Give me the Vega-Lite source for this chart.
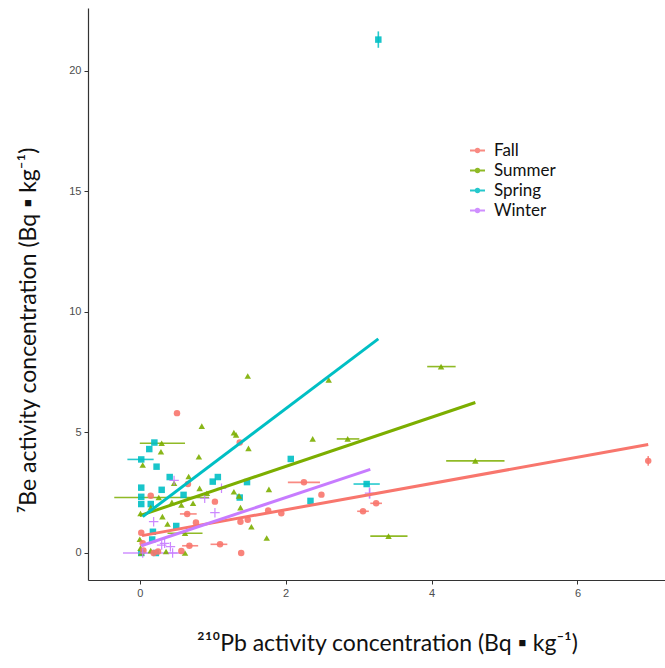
{
  "$schema": "https://vega.github.io/schema/vega-lite/v6.json",
  "width": 577,
  "height": 572,
  "autosize": {"type": "none"},
  "padding": {"left": 88, "top": 8, "right": 0, "bottom": 88},
  "background": "white",
  "config": {
    "view": {"stroke": null},
    "axis": {
      "grid": false,
      "domainColor": "#333333",
      "domainWidth": 1.2,
      "tickColor": "#333333",
      "tickSize": 4,
      "labelColor": "#4d4d4d",
      "labelFont": "Liberation Sans",
      "labelFontSize": 11,
      "titleFont": "Lato",
      "titleFontSize": 23,
      "titleFontWeight": "normal",
      "titleColor": "#111111"
    }
  },
  "datasets": {
    "pts": [
      {"s": "Spring", "x": 3.27, "y": 21.29, "ylo": 20.95, "yhi": 21.63},
      {"s": "Spring", "x": 0.20, "y": 4.58},
      {"s": "Spring", "x": 0.13, "y": 4.31},
      {"s": "Spring", "x": 0.02, "y": 3.88, "xlo": -0.17, "xhi": 0.19},
      {"s": "Spring", "x": 0.23, "y": 3.58},
      {"s": "Spring", "x": 0.41, "y": 3.15},
      {"s": "Spring", "x": 0.02, "y": 2.71},
      {"s": "Spring", "x": 0.30, "y": 2.62},
      {"s": "Spring", "x": 0.60, "y": 2.41},
      {"s": "Spring", "x": 1.00, "y": 2.96},
      {"s": "Spring", "x": 1.07, "y": 3.15},
      {"s": "Spring", "x": 1.47, "y": 2.94},
      {"s": "Spring", "x": 0.02, "y": 2.33},
      {"s": "Spring", "x": 0.02, "y": 2.03},
      {"s": "Spring", "x": 0.15, "y": 2.03},
      {"s": "Spring", "x": 1.37, "y": 2.30},
      {"s": "Spring", "x": 0.50, "y": 1.12},
      {"s": "Spring", "x": 0.18, "y": 0.88},
      {"s": "Spring", "x": 0.17, "y": 0.56},
      {"s": "Spring", "x": 0.22, "y": 0.0},
      {"s": "Spring", "x": 0.02, "y": 0.0},
      {"s": "Spring", "x": 2.07, "y": 3.90},
      {"s": "Spring", "x": 2.34, "y": 2.16},
      {"s": "Spring", "x": 3.11, "y": 2.86, "xlo": 2.93, "xhi": 3.29},
      {"s": "Summer", "x": 4.13, "y": 7.73, "xlo": 3.94, "xhi": 4.33},
      {"s": "Summer", "x": 2.59, "y": 7.18},
      {"s": "Summer", "x": 1.48, "y": 7.34},
      {"s": "Summer", "x": 2.37, "y": 4.73},
      {"s": "Summer", "x": 2.85, "y": 4.73, "xlo": 2.70, "xhi": 3.01},
      {"s": "Summer", "x": 4.60, "y": 3.82, "xlo": 4.20, "xhi": 5.00},
      {"s": "Summer", "x": 3.41, "y": 0.70, "xlo": 3.16, "xhi": 3.67},
      {"s": "Summer", "x": 0.85, "y": 5.26},
      {"s": "Summer", "x": 1.29, "y": 4.99},
      {"s": "Summer", "x": 1.32, "y": 4.90},
      {"s": "Summer", "x": 1.49, "y": 4.34},
      {"s": "Summer", "x": 0.81, "y": 3.99},
      {"s": "Summer", "x": 0.29, "y": 4.20},
      {"s": "Summer", "x": 0.30, "y": 4.55, "xlo": 0.0, "xhi": 0.62},
      {"s": "Summer", "x": 0.04, "y": 3.65},
      {"s": "Summer", "x": 0.67, "y": 3.17},
      {"s": "Summer", "x": 0.47, "y": 2.89},
      {"s": "Summer", "x": 1.77, "y": 2.64},
      {"s": "Summer", "x": 1.29, "y": 2.54},
      {"s": "Summer", "x": 1.36, "y": 2.37},
      {"s": "Summer", "x": 0.82, "y": 2.68},
      {"s": "Summer", "x": 0.92, "y": 2.48},
      {"s": "Summer", "x": 0.26, "y": 2.30, "xlo": -0.35, "xhi": 0.95},
      {"s": "Summer", "x": 1.38, "y": 1.88},
      {"s": "Summer", "x": 0.15, "y": 1.88},
      {"s": "Summer", "x": 0.01, "y": 1.64},
      {"s": "Summer", "x": 0.31, "y": 1.51},
      {"s": "Summer", "x": 0.57, "y": 1.99},
      {"s": "Summer", "x": 0.73, "y": 2.06},
      {"s": "Summer", "x": 0.44, "y": 2.10},
      {"s": "Summer", "x": 1.53, "y": 1.09},
      {"s": "Summer", "x": 1.74, "y": 0.62},
      {"s": "Summer", "x": 0.62, "y": 0.82, "xlo": 0.38, "xhi": 0.86},
      {"s": "Summer", "x": 0.38, "y": 1.20},
      {"s": "Summer", "x": 0.00, "y": 0.57},
      {"s": "Summer", "x": 0.01, "y": 0.20},
      {"s": "Summer", "x": 0.15, "y": 0.10},
      {"s": "Summer", "x": 0.36, "y": 0.06},
      {"s": "Summer", "x": 0.02, "y": 0.00},
      {"s": "Summer", "x": 0.62, "y": 0.00},
      {"s": "Fall", "x": 6.97, "y": 3.82, "ylo": 3.62, "yhi": 4.02},
      {"s": "Fall", "x": 2.25, "y": 2.93, "xlo": 2.03, "xhi": 2.47},
      {"s": "Fall", "x": 2.49, "y": 2.42},
      {"s": "Fall", "x": 3.24, "y": 2.06, "xlo": 3.16, "xhi": 3.32},
      {"s": "Fall", "x": 3.06, "y": 1.73, "xlo": 2.98, "xhi": 3.14},
      {"s": "Fall", "x": 1.94, "y": 1.65},
      {"s": "Fall", "x": 0.51, "y": 5.80},
      {"s": "Fall", "x": 1.37, "y": 4.58},
      {"s": "Fall", "x": 0.66, "y": 2.86},
      {"s": "Fall", "x": 0.15, "y": 2.37},
      {"s": "Fall", "x": 0.65, "y": 1.62, "xlo": 0.55, "xhi": 0.78},
      {"s": "Fall", "x": 1.03, "y": 2.13},
      {"s": "Fall", "x": 0.77, "y": 1.26},
      {"s": "Fall", "x": 1.38, "y": 1.30},
      {"s": "Fall", "x": 1.48, "y": 1.38},
      {"s": "Fall", "x": 1.76, "y": 1.76},
      {"s": "Fall", "x": 0.02, "y": 0.84},
      {"s": "Fall", "x": 0.04, "y": 0.40},
      {"s": "Fall", "x": 0.68, "y": 0.30, "xlo": 0.58, "xhi": 0.80},
      {"s": "Fall", "x": 1.10, "y": 0.36, "xlo": 0.97, "xhi": 1.20},
      {"s": "Fall", "x": 1.39, "y": 0.00},
      {"s": "Fall", "x": 0.25, "y": 0.06},
      {"s": "Fall", "x": 0.57, "y": 0.08},
      {"s": "Fall", "x": 0.19, "y": 0.00},
      {"s": "Fall", "x": 0.05, "y": 0.10},
      {"s": "Winter", "x": 3.15, "y": 2.48, "ylo": 2.25, "yhi": 2.72},
      {"s": "Winter", "x": 1.12, "y": 2.68},
      {"s": "Winter", "x": 0.89, "y": 2.27},
      {"s": "Winter", "x": 1.03, "y": 1.67},
      {"s": "Winter", "x": 0.47, "y": 3.01},
      {"s": "Winter", "x": 0.19, "y": 1.30},
      {"s": "Winter", "x": 0.34, "y": 0.40},
      {"s": "Winter", "x": 0.42, "y": 0.26},
      {"s": "Winter", "x": 0.45, "y": 0.00},
      {"s": "Winter", "x": 0.04, "y": 0.00, "xlo": -0.23, "xhi": 0.61},
      {"s": "Winter", "x": 0.30, "y": 0.33}
    ],
    "fit": [
      {"s": "Fall", "x": 0.03, "y": 0.72},
      {"s": "Fall", "x": 6.97, "y": 4.50},
      {"s": "Summer", "x": 0.0, "y": 1.55},
      {"s": "Summer", "x": 4.6, "y": 6.24},
      {"s": "Spring", "x": 0.04, "y": 1.51},
      {"s": "Spring", "x": 3.27, "y": 8.88},
      {"s": "Winter", "x": 0.02, "y": 0.30},
      {"s": "Winter", "x": 3.16, "y": 3.47}
    ]
  },
  "encoding": {
    "x": {
      "field": "x", "type": "quantitative",
      "scale": {"domain": [-0.71, 7.2], "nice": false, "zero": false},
      "axis": {"values": [0, 2, 4, 6], "title": "²¹⁰Pb activity concentration (Bq ▪ kg⁻¹)", "titleX": 299, "titleY": 70, "titleBaseline": "alphabetic", "labelPadding": 3}
    },
    "y": {
      "field": "y", "type": "quantitative",
      "scale": {"domain": [-1.12, 22.6], "nice": false, "zero": false},
      "axis": {"values": [0, 5, 10, 15, 20], "title": "⁷Be activity concentration (Bq ▪ kg⁻¹)", "titleX": -53, "titleY": 322, "titleBaseline": "alphabetic", "labelPadding": 3}
    },
    "color": {
      "field": "s", "type": "nominal",
      "scale": {"domain": ["Fall", "Summer", "Spring", "Winter"], "range": ["#F8766D", "#7CAE00", "#00BFC4", "#C77CFF"]},
      "legend": {
        "orient": "none", "legendX": 381, "legendY": 134, "title": null,
        "symbolType": "M-1,0H1M-0.22,0A0.22,0.22,0,1,0,0.22,0A0.22,0.22,0,1,0,-0.22,0",
        "symbolSize": 225, "symbolStrokeWidth": 2,
        "labelFont": "Lato", "labelFontSize": 17, "labelColor": "#111111",
        "labelOffset": 8, "rowPadding": 2, "padding": 0
      }
    }
  },
  "layer": [
    {
      "data": {"name": "pts"},
      "transform": [{"filter": "isValid(datum.xlo)"}],
      "mark": {"type": "rule", "strokeWidth": 1.6, "opacity": 0.85},
      "encoding": {
        "x": {"field": "xlo", "type": "quantitative"},
        "x2": {"field": "xhi"}
      }
    },
    {
      "data": {"name": "pts"},
      "transform": [{"filter": "isValid(datum.ylo)"}],
      "mark": {"type": "rule", "strokeWidth": 1.6, "opacity": 0.85},
      "encoding": {
        "y": {"field": "ylo", "type": "quantitative"},
        "y2": {"field": "yhi"}
      }
    },
    {
      "data": {"name": "pts"},
      "transform": [{"filter": "datum.s != 'Winter'"}],
      "mark": {"type": "point", "filled": true, "size": 42, "opacity": 0.9},
      "encoding": {
        "shape": {
          "field": "s", "type": "nominal",
          "scale": {"domain": ["Fall", "Summer", "Spring"], "range": ["circle", "triangle-up", "square"]},
          "legend": null
        }
      }
    },
    {
      "data": {"name": "pts"},
      "transform": [{"filter": "datum.s == 'Winter'"}],
      "mark": {"type": "point", "filled": false, "shape": "M-1,0H1M0,-1V1", "size": 90, "strokeWidth": 1.2, "opacity": 0.9}
    },
    {
      "data": {"name": "fit"},
      "mark": {"type": "line", "strokeWidth": 3},
      "encoding": {"detail": {"field": "s"}}
    }
  ]
}
